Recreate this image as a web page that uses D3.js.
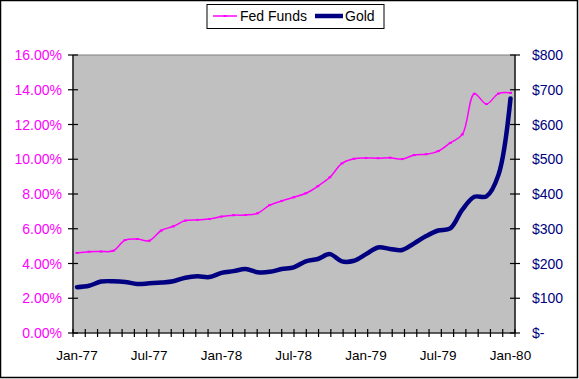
<!DOCTYPE html>
<html><head><meta charset="utf-8">
<script src="https://cdn.jsdelivr.net/npm/d3@7"></script>
<style>body{margin:0;background:#fff}svg{display:block}text{font-family:"Liberation Sans",Arial,sans-serif}</style>
</head><body><div id="chart"></div>
<script>
const months = ["Jan-77","Feb-77","Mar-77","Apr-77","May-77","Jun-77","Jul-77","Aug-77","Sep-77","Oct-77","Nov-77","Dec-77",
"Jan-78","Feb-78","Mar-78","Apr-78","May-78","Jun-78","Jul-78","Aug-78","Sep-78","Oct-78","Nov-78","Dec-78",
"Jan-79","Feb-79","Mar-79","Apr-79","May-79","Jun-79","Jul-79","Aug-79","Sep-79","Oct-79","Nov-79","Dec-79","Jan-80"];
const fedFunds = [4.61,4.68,4.69,4.73,5.35,5.41,5.31,5.90,6.14,6.47,6.51,6.56,
6.70,6.78,6.79,6.89,7.36,7.60,7.81,8.04,8.45,8.96,9.76,10.03,
10.07,10.06,10.09,10.01,10.24,10.29,10.47,10.94,11.43,13.77,13.18,13.78,13.82];
const gold = [132,136,148,149,147,141,143,145,149,159,163,161,
173,178,184,175,176,184,189,206,213,227,206,208,
227,246,242,239,258,279,295,301,355,392,393,455,675];
const xTickLabels = ["Jan-77","Jul-77","Jan-78","Jul-78","Jan-79","Jul-79","Jan-80"];
const leftTicks = [0,2,4,6,8,10,12,14,16];
const rightTicks = [0,100,200,300,400,500,600,700,800];
const seriesNames = ["Fed Funds","Gold"];

const W=579,H=379;
const svg=d3.select("#chart").append("svg").attr("width",W).attr("height",H);
svg.append("rect").attr("x",0.5).attr("y",0.5).attr("width",W-2).attr("height",H-2).attr("fill","#fff").attr("stroke","#000").attr("stroke-width",1.5);

const L=73,R=515,T=55,B=333;
const xData=d3.scalePoint().domain(months).range([77,510.5]);
const xTick=d3.scalePoint().domain(months).range([L,R]);
const yL=d3.scaleLinear().domain([0,16]).range([B,T]);
const yR=d3.scaleLinear().domain([0,800]).range([B,T]);

svg.append("rect").attr("x",L).attr("y",T).attr("width",R-L).attr("height",B-T).attr("fill","#c0c0c0").attr("stroke","#808080").attr("stroke-width",1);

// axes lines
const ax=svg.append("g").attr("stroke","#000").attr("stroke-width",1.2);
ax.append("line").attr("x1",L).attr("x2",L).attr("y1",T).attr("y2",B);
ax.append("line").attr("x1",R).attr("x2",R).attr("y1",T).attr("y2",B);
ax.append("line").attr("x1",L).attr("x2",R).attr("y1",B).attr("y2",B);
leftTicks.forEach(v=>ax.append("line").attr("x1",L-5).attr("x2",L+5).attr("y1",yL(v)).attr("y2",yL(v)));
rightTicks.forEach(v=>ax.append("line").attr("x1",R-5).attr("x2",R+5).attr("y1",yR(v)).attr("y2",yR(v)));
months.forEach(m=>ax.append("line").attr("x1",xTick(m)).attr("x2",xTick(m)).attr("y1",B-4).attr("y2",B+4));

svg.append("g").selectAll("text").data(leftTicks).join("text")
 .attr("x",62).attr("y",d=>yL(d)).attr("dy","0.36em").attr("text-anchor","end")
 .attr("fill","#ff00ff").attr("font-size",14).text(d=>d.toFixed(2)+"%");
svg.append("g").selectAll("text").data(rightTicks).join("text")
 .attr("x",532).attr("y",d=>yR(d)).attr("dy","0.36em").attr("text-anchor","start")
 .attr("fill","#000080").attr("font-size",14).text(d=>d===0?"$-":"$"+d);
svg.append("g").selectAll("text").data(xTickLabels).join("text")
 .attr("x",d=>xData(d)).attr("y",360).attr("text-anchor","middle")
 .attr("fill","#000").attr("font-size",13.5).text(d=>d);

const curve=d3.curveCatmullRom.alpha(0.5);
const lineFF=d3.line().x((d,i)=>xData(months[i])).y(d=>yL(d)).curve(curve);
const lineG=d3.line().x((d,i)=>xData(months[i])).y(d=>yR(d)).curve(curve);
svg.append("path").attr("d",lineG(gold)).attr("fill","none").attr("stroke","#000080").attr("stroke-width",4.5).attr("stroke-linejoin","round").attr("stroke-linecap","round");
svg.append("path").attr("d",lineFF(fedFunds)).attr("fill","none").attr("stroke","#ff00ff").attr("stroke-width",1.5);
svg.append("g").selectAll("rect").data(fedFunds).join("rect")
 .attr("x",(d,i)=>xData(months[i])-1.5).attr("y",d=>yL(d)-1).attr("width",3).attr("height",2).attr("fill","#ff00ff");

// legend
const lg=svg.append("g");
lg.append("rect").attr("x",207).attr("y",4.5).attr("width",177).attr("height",24).attr("fill","#fff").attr("stroke","#000").attr("stroke-width",1);
lg.append("line").attr("x1",213).attr("x2",237).attr("y1",16).attr("y2",16).attr("stroke","#ff00ff").attr("stroke-width",1.5);
lg.append("rect").attr("x",223.5).attr("y",15).attr("width",3).attr("height",2).attr("fill","#ff00ff");
lg.append("text").attr("x",240).attr("y",16).attr("dy","0.36em").attr("font-size",14).text(seriesNames[0]);
lg.append("line").attr("x1",315).attr("x2",343).attr("y1",16).attr("y2",16).attr("stroke","#000080").attr("stroke-width",4.5);
lg.append("text").attr("x",345).attr("y",16).attr("dy","0.36em").attr("font-size",14).text(seriesNames[1]);
</script></body></html>
